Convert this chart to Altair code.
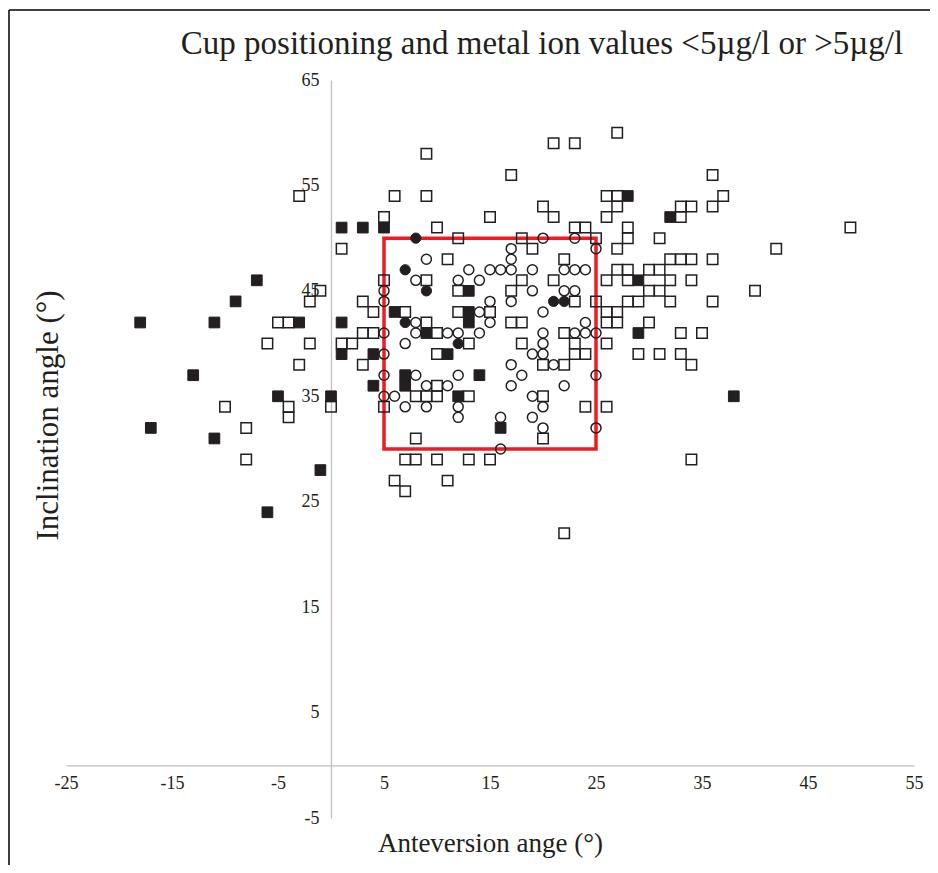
import altair as alt
import pandas as pd

TITLE = "Cup positioning and metal ion values <5µg/l or >5µg/l"
X_TITLE = "Anteversion ange (°)"
Y_TITLE = "Inclination angle (°)"
X_TICKS = [-25, -15, -5, 5, 15, 25, 35, 45, 55]
Y_TICKS = [-5, 5, 15, 25, 35, 45, 55, 65]
BOX_X = [5, 25]
BOX_Y = [30, 50]

# open squares
sq_open = [
    (-5, 42), (-4, 42), (-1, 45), (-2, 44), (-6, 40), (-2, 40), (-3, 38), (-4, 34), (-4, 33),
    (-10, 34), (-8, 32), (-8, 29), (0, 34), (1, 40), (1, 49), (-3, 54), (5, 52),
    (6, 54), (9, 54), (9, 58), (10, 51), (12, 50), (11, 48), (9, 46), (5, 46), (12, 45), (3, 44),
    (4, 43), (7, 43), (12, 43), (3, 41), (4, 41), (10, 41), (2, 40), (13, 40), (10, 39), (3, 38),
    (10, 36), (8, 35), (9, 35), (10, 35), (13, 35), (5, 34), (8, 31), (7, 29), (8, 29), (10, 29),
    (13, 29), (15, 29), (6, 27), (11, 27), (7, 26), (22, 22), (9, 42),
    (15, 52), (17, 56), (20, 53), (21, 52), (21, 59), (23, 59), (23, 51), (24, 51), (18, 50),
    (19, 49), (22, 48), (18, 46), (21, 46), (26, 46), (17, 45), (23, 44), (25, 44), (15, 43),
    (17, 42), (18, 42), (22, 41), (18, 40), (23, 40), (23, 39), (24, 39), (20, 38), (22, 38),
    (20, 35), (24, 34), (26, 34), (20, 31), (25, 50),
    (27, 60), (36, 56), (26, 54), (27, 54), (37, 54), (27, 53), (33, 53), (34, 53), (36, 53),
    (26, 52), (33, 52), (28, 51), (49, 51), (28, 50), (31, 50), (27, 49), (42, 49), (32, 48),
    (33, 48), (34, 48), (36, 48), (27, 47), (28, 47), (30, 47), (31, 47), (28, 46), (32, 46),
    (34, 46), (30, 45), (31, 45), (40, 45), (28, 44), (29, 44), (32, 44), (36, 44), (26, 43),
    (27, 43), (26, 42), (27, 42), (30, 42), (33, 41), (35, 41), (26, 40), (29, 39), (31, 39),
    (33, 39), (34, 38), (34, 29),
]

# filled squares
sq_filled = [
    (-18, 42), (-17, 32), (-13, 37), (-11, 42), (-11, 31), (-9, 44), (-7, 46), (-6, 24),
    (-5, 35), (-3, 42), (-1, 28), (0, 35), (1, 51), (3, 51), (5, 51), (1, 42), (1, 39),
    (4, 39), (4, 36), (6, 43), (7, 37), (7, 36), (9, 41), (11, 39), (12, 35), (13, 45),
    (13, 43), (13, 42), (14, 37), (16, 32), (28, 54), (32, 52), (29, 46), (29, 41), (38, 35),
]

# open circles
circ_open = [
    (9, 48), (13, 47), (8, 46), (12, 46), (14, 46), (5, 45), (5, 44), (8, 42),
    (5, 41), (8, 41), (11, 41), (12, 41), (14, 41), (7, 40), (5, 39), (5, 37), (8, 37),
    (12, 37), (9, 36), (11, 36), (5, 35), (6, 35), (7, 34), (9, 34), (12, 34), (12, 33),
    (17, 49), (17, 48), (20, 50), (23, 50), (25, 49), (15, 47), (16, 47), (17, 47), (19, 47),
    (22, 47), (23, 47), (24, 47), (19, 45), (22, 45), (23, 45), (15, 44), (17, 44), (20, 43),
    (14, 43), (15, 42), (24, 42), (20, 41), (23, 41), (24, 41), (25, 41), (20, 40), (19, 39),
    (20, 39), (17, 38), (21, 38), (18, 37), (25, 37), (17, 36), (22, 36), (19, 35), (20, 34),
    (16, 33), (19, 33), (20, 32), (25, 32), (16, 30),
]

# filled circles
circ_filled = [(8, 50), (7, 47), (9, 45), (7, 42), (12, 40), (21, 44), (22, 44)]


def frame(pts):
    return pd.DataFrame({"x": [p[0] for p in pts], "y": [p[1] for p in pts]})


W, H = 848, 738
FONT = "Liberation Serif"
INK = "#231f20"
AX = "#bfbfbf"

xscale = alt.Scale(domain=[-25, 55], nice=False, zero=False)
yscale = alt.Scale(domain=[-5, 65], nice=False, zero=False)

x_axis = alt.Axis(
    values=X_TICKS, grid=False, ticks=False, domainColor=AX, domainWidth=1.3,
    labelFont=FONT, labelFontSize=18, labelColor=INK, labelPadding=9,
    labelExpr="'' + datum.value", labelFlush=False, labelOverlap=False,
    offset=-(5 / 70) * H, title=X_TITLE, titleFont=FONT, titleFontSize=27,
    titleFontWeight="normal", titleColor=INK, titleY=86, titleBaseline="alphabetic",
)
y_axis = alt.Axis(
    values=Y_TICKS, grid=False, ticks=False, domainColor=AX, domainWidth=1.3,
    labelFont=FONT, labelFontSize=18, labelColor=INK, labelPadding=12,
    labelExpr="'' + datum.value", labelFlush=False, labelOverlap=False,
    offset=-(25 / 80) * W, title=Y_TITLE, titleFont=FONT, titleFontSize=31,
    titleFontWeight="normal", titleColor=INK, titleX=-283, titleY=335,
    titleBaseline="middle", titleAngle=-90,
)

X = alt.X("x:Q", scale=xscale, axis=x_axis)
Y = alt.Y("y:Q", scale=yscale, axis=y_axis)

box = alt.Chart(pd.DataFrame({"x": [BOX_X[0]], "x2": [BOX_X[1]], "y": [BOX_Y[0]], "y2": [BOX_Y[1]]})).mark_rect(
    fillOpacity=0, stroke="#ed1c24", strokeWidth=3.5
).encode(x=X, x2="x2:Q", y=Y, y2="y2:Q")

layers = [box]
specs = [
    (sq_open, "square", False, 110),
    (circ_open, "circle", False, 100),
    (sq_filled, "square", True, 115),
    (circ_filled, "circle", True, 105),
]
for pts, shape, filled, size in specs:
    if filled:
        m = alt.Chart(frame(pts)).mark_point(shape=shape, filled=True, color=INK, size=size,
                                             opacity=1, stroke=INK, strokeWidth=1)
    else:
        m = alt.Chart(frame(pts)).mark_point(shape=shape, filled=False, color=INK, size=size,
                                             opacity=1, strokeWidth=1.5)
    layers.append(m.encode(x=X, y=Y))

one = pd.DataFrame({"k": [0]})
frame_left = alt.Chart(one).mark_rule(color="#000000", strokeWidth=1.5).encode(
    x=alt.value(-57), y=alt.value(-70), y2=alt.value(785))
frame_top = alt.Chart(one).mark_rule(color="#000000", strokeWidth=1.5).encode(
    x=alt.value(-57), x2=alt.value(W + 16), y=alt.value(-70))
layers += [frame_left, frame_top]

chart = alt.layer(*layers).properties(
    width=W, height=H, background="white",
    title=alt.TitleParams(TITLE, font=FONT, fontSize=33, fontWeight="normal", color=INK,
                          anchor="middle", frame="group", dx=52, offset=-77.75,
                          baseline="alphabetic"),
    autosize=alt.AutoSizeParams(type="none"),
    padding={"left": 58, "top": 72, "right": 16, "bottom": 47},
).configure_view(stroke="transparent", strokeWidth=0)

chart.save("out.html", embed_options={"renderer": "svg", "actions": False})
